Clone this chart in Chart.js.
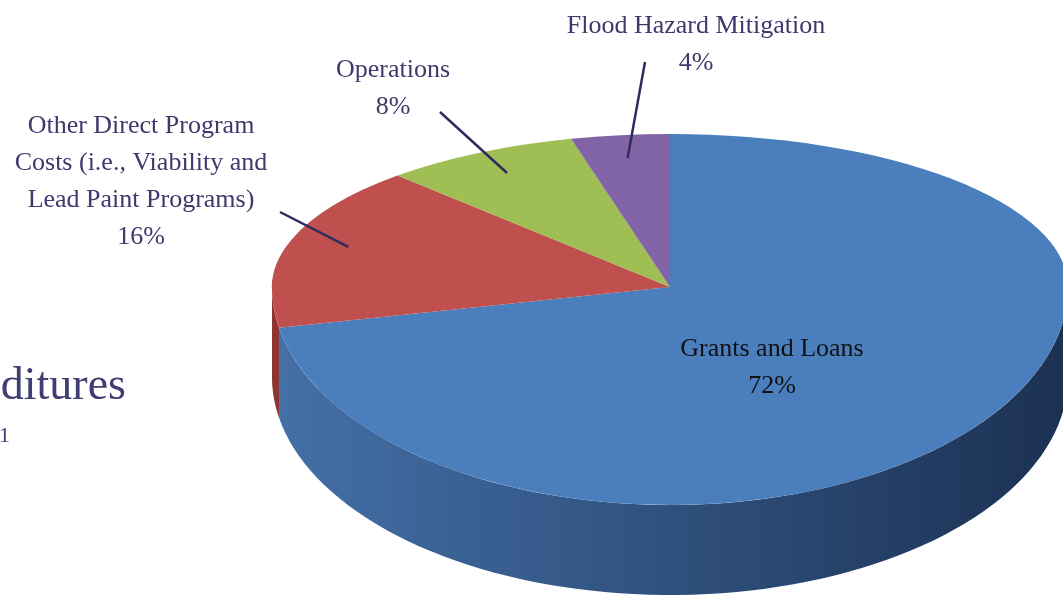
<!DOCTYPE html>
<html>
<head>
<meta charset="utf-8">
<script src="https://cdn.jsdelivr.net/npm/chart.js@4.4.1/dist/chart.umd.min.js"></script>
<style>
  html, body { margin: 0; padding: 0; background: #ffffff; overflow: hidden; }
  #wrap { position: relative; width: 1063px; height: 597px; }
  #chartPie { position: absolute; left: 0; top: 0; }
  .title { position: absolute; font-family: 'Liberation Serif', serif; color: #3f3d72; white-space: nowrap; text-align: right; line-height: 1; }
</style>
</head>
<body>
<div id="wrap">
  <canvas id="chartPie" width="1063" height="597"></canvas>
  <div class="title" style="left:-500px; width:626px; top:361px; font-size:46px;">Expenditures</div>
  <div class="title" style="left:-500px; width:510px; top:424px; font-size:22px;">2011</div>
</div>
<script>
const chartPie = document.getElementById('chartPie')

// data
const categories = ['Grants and Loans', 'Other Direct Program Costs (i.e., Viability and Lead Paint Programs)', 'Operations', 'Flood Hazard Mitigation']
const shares = [72, 16, 8, 4]
const labelLines = [
    ['Grants and Loans'],
    ['Other Direct Program', 'Costs (i.e., Viability and', 'Lead Paint Programs)'],
    ['Operations'],
    ['Flood Hazard Mitigation']
]

const topColors = ['#4a7ebd', '#c0504d', '#9fbf55', '#8064a6']
const sideColors = [['#4470a8', '#1b3152'], ['#8e3431', '#7a2a28'], ['#6f8a36', '#6f8a36'], ['#5b4478', '#5b4478']]
const textColor = '#3c3a6c'
const lineColor = '#2e2c5e'

// tilted pie: back half flatter than front half (perspective)
const CX = 670, CY = 287, RX = 398, RY_BACK = 153, RY_FRONT = 218, DEPTH = 90

// label placement (center x, first baseline, line end near text)
const labelPos = [
    { x: 772, y: 356, color: '#111111', line: null },
    { x: 141, y: 133, color: textColor, line: [280, 212] },
    { x: 393, y: 77, color: textColor, line: [440, 112] },
    { x: 696, y: 33, color: textColor, line: [645, 62] }
]
const lineGap = 37

function ellPt(t, f) {
    const s = Math.sin(t)
    const ry = s > 0 ? RY_FRONT : RY_BACK
    return [CX + RX * f * Math.cos(t), CY + ry * f * s]
}

function drawHalf(chart, arcs, ry, y0, y1) {
    const ctx = chart.ctx
    const a0 = arcs[0]
    const R = a0.outerRadius
    ctx.save()
    ctx.beginPath()
    ctx.rect(0, y0, chart.width, y1 - y0)
    ctx.clip()
    ctx.translate(CX, CY)
    ctx.scale(RX / R, ry / R)
    ctx.translate(-a0.x, -a0.y)
    arcs.forEach(arc => arc.draw(ctx))
    ctx.restore()
}

const pie3d = {
    id: 'pie3d',
    beforeDatasetsDraw(chart) {
        const ctx = chart.ctx
        const arcs = chart.getDatasetMeta(0).data
        // side wall of the front half
        arcs.forEach((arc, i) => {
            const s = arc.startAngle, e = arc.endAngle
            const segs = []
            for (const off of [0, Math.PI * 2, -Math.PI * 2]) {
                const a = Math.max(s + off, 0), b = Math.min(e + off, Math.PI)
                if (b > a) segs.push([a, b])
            }
            segs.forEach(([a, b]) => {
                ctx.save()
                ctx.beginPath()
                const n = 80
                for (let k = 0; k <= n; k++) {
                    const p = ellPt(a + (b - a) * k / n, 1)
                    if (k === 0) ctx.moveTo(p[0], p[1]); else ctx.lineTo(p[0], p[1])
                }
                for (let k = n; k >= 0; k--) {
                    const p = ellPt(a + (b - a) * k / n, 1)
                    ctx.lineTo(p[0], p[1] + DEPTH)
                }
                ctx.closePath()
                const g = ctx.createLinearGradient(CX - RX, 0, CX + RX, 0)
                g.addColorStop(0, sideColors[i][0])
                g.addColorStop(1, sideColors[i][1])
                ctx.fillStyle = g
                ctx.fill()
                ctx.restore()
            })
        })
        // top face, squashed differently behind and in front of the centre
        drawHalf(chart, arcs, RY_BACK, 0, CY + 0.5)
        drawHalf(chart, arcs, RY_FRONT, CY - 0.5, chart.height)
        return false
    },
    afterDraw(chart) {
        const ctx = chart.ctx
        const arcs = chart.getDatasetMeta(0).data
        ctx.save()
        ctx.font = '26px "Liberation Serif", serif'
        ctx.textAlign = 'center'
        ctx.textBaseline = 'alphabetic'
        arcs.forEach((arc, i) => {
            const pos = labelPos[i]
            const lines = labelLines[i].concat([shares[i] + '%'])
            ctx.fillStyle = pos.color
            lines.forEach((t, k) => ctx.fillText(t, pos.x, pos.y + k * lineGap))
            if (pos.line) {
                const mid = (arc.startAngle + arc.endAngle) / 2
                const p = ellPt(mid, 0.85)
                ctx.beginPath()
                ctx.moveTo(pos.line[0], pos.line[1])
                ctx.lineTo(p[0], p[1])
                ctx.strokeStyle = lineColor
                ctx.lineWidth = 2.5
                ctx.stroke()
            }
        })
        ctx.restore()
    }
}

new Chart(chartPie, {
    type: 'pie',
    data: {
        labels: categories,
        datasets: [{
            data: shares,
            backgroundColor: topColors,
            borderWidth: 0
        }]
    },
    options: {
        responsive: false,
        animation: false,
        layout: { padding: 50 },
        plugins: {
            legend: { display: false },
            tooltip: { enabled: false }
        }
    },
    plugins: [pie3d]
})
</script>
</body>
</html>
